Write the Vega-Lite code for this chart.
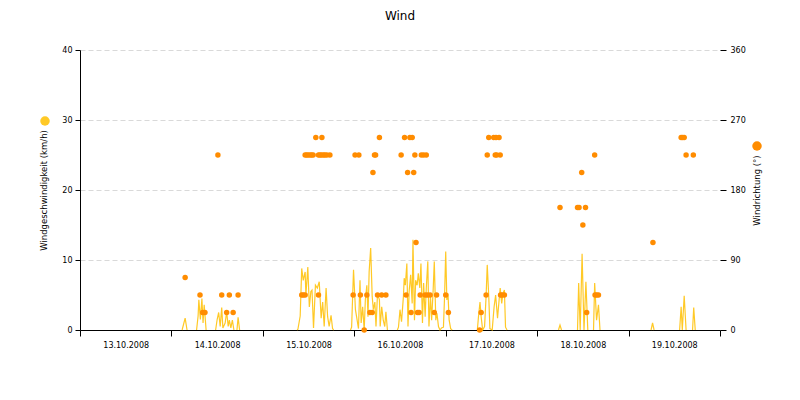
{
  "$schema": "https://vega.github.io/schema/vega-lite/v6.json",
  "width": 640,
  "height": 280,
  "autosize": {"type": "none"},
  "padding": {"left": 80, "top": 50, "right": 80, "bottom": 70},
  "background": "white",
  "title": {"text": "Wind", "font": "DejaVu Sans", "fontSize": 12, "fontWeight": "normal", "color": "#000000", "offset": 23},
  "config": {
    "view": {"stroke": null},
    "font": "DejaVu Sans",
    "axis": {"labelFont": "DejaVu Sans", "labelFontSize": 8, "labelColor": "#000000", "titleFont": "DejaVu Sans", "titleFontSize": 8.5, "titleFontWeight": "normal", "titleColor": "#000000", "domainColor": "#000000", "tickColor": "#000000", "gridColor": "#d9d9d9", "gridDash": [5, 3], "zindex": 1}
  },
  "datasets": {
    "speed": [
      {"s": 1, "h": 26.8, "v": 0}, {"s": 1, "h": 27.6, "v": 1.7}, {"s": 1, "h": 28.1, "v": 0},
      {"s": 2, "h": 30.6, "v": 0}, {"s": 2, "h": 31.0, "v": 2.0}, {"s": 2, "h": 31.2, "v": 4.3}, {"s": 2, "h": 31.6, "v": 1.5}, {"s": 2, "h": 32.0, "v": 4.5}, {"s": 2, "h": 32.3, "v": 1.0},
      {"s": 2, "h": 32.6, "v": 3.6}, {"s": 2, "h": 33.1, "v": 0},
      {"s": 3, "h": 35.6, "v": 0}, {"s": 3, "h": 36.0, "v": 1.5}, {"s": 3, "h": 36.4, "v": 2.5},
      {"s": 3, "h": 36.8, "v": 0.5}, {"s": 3, "h": 37.2, "v": 3.2}, {"s": 3, "h": 37.5, "v": 0.3}, {"s": 3, "h": 38.1, "v": 1.0}, {"s": 3, "h": 38.5, "v": 2.6},
      {"s": 3, "h": 38.9, "v": 0.5}, {"s": 3, "h": 39.2, "v": 1.4}, {"s": 3, "h": 39.6, "v": 0.3}, {"s": 3, "h": 40.0, "v": 1.4}, {"s": 3, "h": 40.4, "v": 0},
      {"s": 4, "h": 41.2, "v": 0}, {"s": 4, "h": 41.5, "v": 1.8}, {"s": 4, "h": 41.9, "v": 0},
      {"s": 5, "h": 57.0, "v": 0}, {"s": 5, "h": 57.2, "v": 0.1}, {"s": 5, "h": 57.8, "v": 2.0}, {"s": 5, "h": 58.2, "v": 8.8}, {"s": 5, "h": 58.6, "v": 7.1}, {"s": 5, "h": 59.1, "v": 8.3},
      {"s": 5, "h": 59.3, "v": 5.0}, {"s": 5, "h": 59.8, "v": 9.0}, {"s": 5, "h": 60.2, "v": 3.3}, {"s": 5, "h": 60.6, "v": 5.5}, {"s": 5, "h": 60.9, "v": 5.7},
      {"s": 5, "h": 61.3, "v": 0.3}, {"s": 5, "h": 61.8, "v": 6.4}, {"s": 5, "h": 62.3, "v": 6.0}, {"s": 5, "h": 62.8, "v": 6.9}, {"s": 5, "h": 63.3, "v": 1.7},
      {"s": 5, "h": 63.7, "v": 4.0}, {"s": 5, "h": 64.1, "v": 0.5}, {"s": 5, "h": 64.6, "v": 6.0}, {"s": 5, "h": 65.0, "v": 1.9}, {"s": 5, "h": 65.4, "v": 0.5},
      {"s": 5, "h": 65.9, "v": 2.1}, {"s": 5, "h": 66.3, "v": 0.2}, {"s": 5, "h": 66.6, "v": 0},
      {"s": 6, "h": 71.0, "v": 0}, {"s": 6, "h": 71.3, "v": 0.4},
      {"s": 6, "h": 71.8, "v": 8.6}, {"s": 6, "h": 72.3, "v": 2.9}, {"s": 6, "h": 72.6, "v": 1.9}, {"s": 6, "h": 73.1, "v": 0.2}, {"s": 6, "h": 73.5, "v": 7.1},
      {"s": 6, "h": 73.8, "v": 1.0}, {"s": 6, "h": 74.2, "v": 3.3}, {"s": 6, "h": 74.6, "v": 0}, {"s": 6, "h": 74.9, "v": 4.3}, {"s": 6, "h": 75.3, "v": 6.4},
      {"s": 6, "h": 75.6, "v": 1.9}, {"s": 6, "h": 75.9, "v": 8.3}, {"s": 6, "h": 76.3, "v": 11.7}, {"s": 6, "h": 76.7, "v": 4.8}, {"s": 6, "h": 77.0, "v": 2.9},
      {"s": 6, "h": 77.4, "v": 4.0}, {"s": 6, "h": 77.7, "v": 0.5}, {"s": 6, "h": 78.1, "v": 5.2}, {"s": 6, "h": 78.6, "v": 4.3}, {"s": 6, "h": 78.8, "v": 0.5},
      {"s": 6, "h": 79.2, "v": 3.3}, {"s": 6, "h": 79.6, "v": 1.4}, {"s": 6, "h": 80.0, "v": 0.5}, {"s": 6, "h": 80.3, "v": 2.6}, {"s": 6, "h": 80.7, "v": 0},
      {"s": 7, "h": 83.3, "v": 0}, {"s": 7, "h": 83.6, "v": 0.4}, {"s": 7, "h": 84.0, "v": 2.9}, {"s": 7, "h": 84.4, "v": 1.2}, {"s": 7, "h": 84.9, "v": 4.8},
      {"s": 7, "h": 85.1, "v": 7.4}, {"s": 7, "h": 85.4, "v": 6.4}, {"s": 7, "h": 85.8, "v": 9.5}, {"s": 7, "h": 86.1, "v": 0.5}, {"s": 7, "h": 86.4, "v": 5.5},
      {"s": 7, "h": 86.8, "v": 7.9}, {"s": 7, "h": 87.2, "v": 3.8}, {"s": 7, "h": 87.4, "v": 12.9}, {"s": 7, "h": 87.8, "v": 1.4}, {"s": 7, "h": 88.1, "v": 7.1},
      {"s": 7, "h": 88.5, "v": 6.4}, {"s": 7, "h": 88.8, "v": 8.1}, {"s": 7, "h": 89.2, "v": 6.0}, {"s": 7, "h": 89.5, "v": 9.5}, {"s": 7, "h": 89.9, "v": 1.0},
      {"s": 7, "h": 90.2, "v": 6.7}, {"s": 7, "h": 90.6, "v": 1.9}, {"s": 7, "h": 90.9, "v": 6.0}, {"s": 7, "h": 91.3, "v": 9.8}, {"s": 7, "h": 91.6, "v": 0.5},
      {"s": 7, "h": 92.0, "v": 4.8}, {"s": 7, "h": 92.3, "v": 1.4}, {"s": 7, "h": 92.7, "v": 5.7}, {"s": 7, "h": 93.0, "v": 9.8}, {"s": 7, "h": 93.4, "v": 1.4},
      {"s": 7, "h": 93.7, "v": 2.4}, {"s": 7, "h": 94.1, "v": 0.5}, {"s": 7, "h": 94.5, "v": 0}, {"s": 7, "h": 94.9, "v": 0.3}, {"s": 7, "h": 95.4, "v": 0.4},
      {"s": 7, "h": 95.7, "v": 4.8}, {"s": 7, "h": 96.0, "v": 11.2}, {"s": 7, "h": 96.3, "v": 4.3}, {"s": 7, "h": 96.6, "v": 5.2}, {"s": 7, "h": 96.9, "v": 1.4},
      {"s": 7, "h": 97.3, "v": 0.2}, {"s": 7, "h": 97.7, "v": 0},
      {"s": 8, "h": 104.3, "v": 0}, {"s": 8, "h": 104.6, "v": 1.9}, {"s": 8, "h": 105.0, "v": 4.0},
      {"s": 8, "h": 105.3, "v": 1.9}, {"s": 8, "h": 105.7, "v": 0}, {"s": 8, "h": 106.2, "v": 0.5}, {"s": 8, "h": 106.6, "v": 4.8}, {"s": 8, "h": 106.9, "v": 9.3},
      {"s": 8, "h": 107.3, "v": 4.8}, {"s": 8, "h": 107.6, "v": 0.2}, {"s": 8, "h": 108.2, "v": 0}, {"s": 8, "h": 108.7, "v": 3.3}, {"s": 8, "h": 109.1, "v": 5.0},
      {"s": 8, "h": 109.6, "v": 1.7}, {"s": 8, "h": 110.1, "v": 4.8}, {"s": 8, "h": 110.3, "v": 6.0}, {"s": 8, "h": 110.7, "v": 3.8}, {"s": 8, "h": 111.0, "v": 5.2},
      {"s": 8, "h": 111.4, "v": 5.7}, {"s": 8, "h": 111.7, "v": 0.4}, {"s": 8, "h": 112.1, "v": 0},
      {"s": 9, "h": 125.6, "v": 0}, {"s": 9, "h": 126.0, "v": 0.7}, {"s": 9, "h": 126.4, "v": 0},
      {"s": 10, "h": 130.6, "v": 0}, {"s": 10, "h": 130.9, "v": 6.7}, {"s": 10, "h": 131.3, "v": 0}, {"s": 10, "h": 131.8, "v": 10.9},
      {"s": 10, "h": 132.3, "v": 0}, {"s": 10, "h": 132.8, "v": 6.9}, {"s": 10, "h": 133.3, "v": 0},
      {"s": 11, "h": 134.8, "v": 0}, {"s": 11, "h": 135.1, "v": 6.7}, {"s": 11, "h": 135.6, "v": 1.4}, {"s": 11, "h": 136.1, "v": 3.6}, {"s": 11, "h": 136.5, "v": 0},
      {"s": 12, "h": 149.9, "v": 0}, {"s": 12, "h": 150.3, "v": 1.0}, {"s": 12, "h": 150.7, "v": 0},
      {"s": 13, "h": 157.4, "v": 0}, {"s": 13, "h": 157.8, "v": 3.3}, {"s": 13, "h": 158.1, "v": 0}, {"s": 13, "h": 158.6, "v": 4.9}, {"s": 13, "h": 159.1, "v": 0},
      {"s": 14, "h": 160.8, "v": 0}, {"s": 14, "h": 161.1, "v": 3.2}, {"s": 14, "h": 161.5, "v": 0}
    ],
    "direction": [
      {"h": 27.6, "d": 67.5}, {"h": 31.5, "d": 45}, {"h": 32.2, "d": 22.5}, {"h": 32.8, "d": 22.5}, {"h": 36.2, "d": 225},
      {"h": 37.2, "d": 45}, {"h": 38.5, "d": 22.5}, {"h": 39.2, "d": 45}, {"h": 40.2, "d": 22.5}, {"h": 41.5, "d": 45},
      {"h": 58.2, "d": 45}, {"h": 58.6, "d": 45}, {"h": 59.1, "d": 45}, {"h": 62.6, "d": 45},
      {"h": 59.1, "d": 225}, {"h": 59.5, "d": 225}, {"h": 59.9, "d": 225}, {"h": 60.4, "d": 225}, {"h": 60.8, "d": 225},
      {"h": 61.2, "d": 225}, {"h": 62.6, "d": 225}, {"h": 63.0, "d": 225}, {"h": 63.4, "d": 225}, {"h": 63.9, "d": 225},
      {"h": 64.3, "d": 225}, {"h": 64.8, "d": 225}, {"h": 65.6, "d": 225}, {"h": 61.9, "d": 247.5}, {"h": 63.5, "d": 247.5},
      {"h": 71.7, "d": 45}, {"h": 72.2, "d": 225}, {"h": 73.2, "d": 225}, {"h": 73.6, "d": 45}, {"h": 74.6, "d": 0},
      {"h": 75.3, "d": 45}, {"h": 76.1, "d": 22.5}, {"h": 76.7, "d": 22.5}, {"h": 76.9, "d": 202.5}, {"h": 77.3, "d": 225},
      {"h": 77.6, "d": 225}, {"h": 78.1, "d": 45}, {"h": 78.6, "d": 247.5}, {"h": 79.2, "d": 45}, {"h": 80.3, "d": 45},
      {"h": 84.3, "d": 225}, {"h": 85.2, "d": 247.5}, {"h": 85.6, "d": 45}, {"h": 86.0, "d": 202.5}, {"h": 86.6, "d": 247.5},
      {"h": 87.2, "d": 247.5}, {"h": 86.9, "d": 22.5}, {"h": 87.6, "d": 202.5}, {"h": 87.9, "d": 225}, {"h": 88.2, "d": 112.5},
      {"h": 88.6, "d": 22.5}, {"h": 89.0, "d": 22.5}, {"h": 89.3, "d": 45}, {"h": 89.6, "d": 225}, {"h": 90.2, "d": 225},
      {"h": 90.6, "d": 45}, {"h": 90.9, "d": 225}, {"h": 91.2, "d": 45}, {"h": 91.9, "d": 45}, {"h": 93.0, "d": 22.5},
      {"h": 93.6, "d": 45}, {"h": 96.0, "d": 45}, {"h": 96.7, "d": 22.5},
      {"h": 104.9, "d": 0}, {"h": 105.3, "d": 22.5}, {"h": 106.6, "d": 45}, {"h": 106.9, "d": 225}, {"h": 107.3, "d": 247.5},
      {"h": 108.6, "d": 247.5}, {"h": 109.0, "d": 225}, {"h": 109.2, "d": 247.5}, {"h": 109.4, "d": 225}, {"h": 110.0, "d": 247.5},
      {"h": 110.3, "d": 225}, {"h": 110.4, "d": 45}, {"h": 110.8, "d": 45}, {"h": 111.4, "d": 45},
      {"h": 126.0, "d": 157.5}, {"h": 130.6, "d": 157.5}, {"h": 131.0, "d": 157.5}, {"h": 131.7, "d": 202.5}, {"h": 132.0, "d": 135},
      {"h": 132.7, "d": 157.5}, {"h": 133.0, "d": 22.5}, {"h": 135.1, "d": 225}, {"h": 135.2, "d": 45}, {"h": 135.6, "d": 45},
      {"h": 136.1, "d": 45}, {"h": 150.4, "d": 112.5}, {"h": 157.8, "d": 247.5}, {"h": 158.2, "d": 247.5}, {"h": 158.6, "d": 247.5},
      {"h": 159.1, "d": 225}, {"h": 161.0, "d": 225}
    ]
  },
  "layer": [
    {
      "data": {"name": "speed"},
      "mark": {"type": "line", "strokeWidth": 1.2, "opacity": 0.85, "interpolate": "linear"},
      "encoding": {
        "x": {"field": "h", "type": "quantitative", "scale": {"domain": [0, 168], "nice": false, "zero": false},
          "axis": {"title": null, "values": [0, 24, 48, 72, 96, 120, 144, 168], "grid": false, "tickSize": 6, "labelPadding": 5, "labelOffset": 45.7, "labelFlush": false, "labelOverlap": false,
            "labelExpr": "datum.value < 168 ? ['13.10.2008','14.10.2008','15.10.2008','16.10.2008','17.10.2008','18.10.2008','19.10.2008'][round(datum.value/24)] : ''"}},
        "y": {"field": "v", "type": "quantitative", "scale": {"domain": [0, 40], "nice": false},
          "axis": {"title": "Windgeschwindigkeit (km/h)", "values": [0, 10, 20, 30, 40], "grid": true, "tickSize": 5, "labelPadding": 3, "titlePadding": 13}},
        "detail": {"field": "s", "type": "nominal"},
        "stroke": {"datum": "Windgeschwindigkeit", "scale": {"range": ["#FFC000"]},
          "legend": {"orient": "none", "legendX": -40, "legendY": 66, "title": null, "labelExpr": "''", "symbolType": "circle", "symbolSize": 90, "symbolFillColor": "#FFC000", "symbolStrokeWidth": 0, "padding": 0, "labelFontSize": 1}}
      }
    },
    {
      "data": {"name": "direction"},
      "mark": {"type": "point", "filled": true, "size": 30, "opacity": 1},
      "encoding": {
        "x": {"field": "h", "type": "quantitative"},
        "y": {"field": "d", "type": "quantitative", "scale": {"domain": [0, 360], "nice": false},
          "axis": {"title": "Windrichtung (°)", "orient": "right", "values": [0, 90, 180, 270, 360], "grid": false, "domain": false, "tickSize": 6, "labelPadding": 4, "titleAngle": 270, "titlePadding": 16}},
        "fill": {"datum": "Windrichtung", "scale": {"range": ["#FF8C00"]},
          "legend": {"orient": "none", "legendX": 672, "legendY": 91, "title": null, "labelExpr": "''", "symbolType": "circle", "symbolSize": 90, "symbolStrokeWidth": 0, "padding": 0, "labelFontSize": 1}}
      }
    }
  ],
  "resolve": {"scale": {"y": "independent"}}
}
